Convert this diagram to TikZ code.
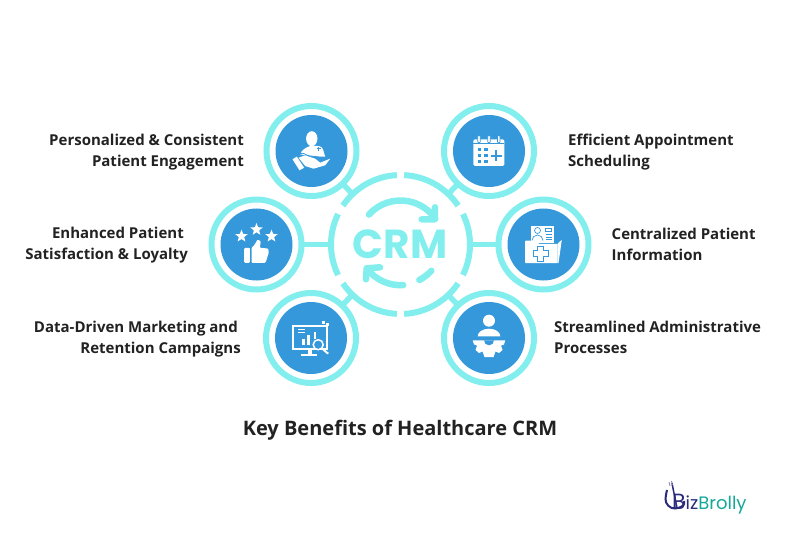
\documentclass[tikz,border=0pt]{standalone}
\usepackage{fontspec}
\setmainfont{Open Sans}
\newfontfamily\logofont{Poppins}
\usetikzlibrary{shapes.geometric}
\definecolor{ringcyan}{HTML}{83EEEE}
\definecolor{discblue}{HTML}{3498DB}
\definecolor{labelgray}{HTML}{222222}
\definecolor{logonavy}{HTML}{2B2A7C}
\definecolor{logoteal}{HTML}{14A898}
\tikzset{
    benefit/.style={circle,draw=ringcyan,line width=6pt,minimum size=90pt,outer sep=0pt,inner sep=0pt},
    hubnode/.style={circle,minimum size=139pt,outer sep=0pt,inner sep=0pt},
    hubarc/.style={draw=ringcyan,line width=6pt},
    link/.style={draw=ringcyan,line width=5.5pt},
    spin/.style={draw=ringcyan,line width=6.5pt,line cap=round,line join=round},
    leftlabel/.style={anchor=east,align=right,inner sep=0pt,text=labelgray,font=\fontsize{15}{21}\selectfont\bfseries},
    rightlabel/.style={anchor=west,align=left,inner sep=0pt,text=labelgray,font=\fontsize{15}{21}\selectfont\bfseries},
    icostar/.style={star,star points=5,star point ratio=2.3,minimum size=13pt,inner sep=0pt,fill=white}
}
\begin{document}
\begin{tikzpicture}[x=1pt,y=1pt]
    \useasboundingbox (0,0) rectangle (801,550);

    \node [hubnode] (hub) at (400.5,305.5) {};
    \node [benefit] (pers) at (311.5,399) {};
    \node [benefit] (appt) at (489,399) {};
    \node [benefit] (satis) at (256.5,305.5) {};
    \node [benefit] (info) at (543.5,305.5) {};
    \node [benefit] (data) at (311,212) {};
    \node [benefit] (admin) at (489,212) {};

    \fill [discblue] (pers) circle (36);
    \fill [discblue] (appt) circle (36);
    \fill [discblue] (satis) circle (36);
    \fill [discblue] (info) circle (36);
    \fill [discblue] (data) circle (36);
    \fill [discblue] (admin) circle (36);

    \draw [link] (pers) -- (hub);
    \draw [link] (appt) -- (hub);
    \draw [link] (satis) -- (hub);
    \draw [link] (info) -- (hub);
    \draw [link] (data) -- (hub);
    \draw [link] (admin) -- (hub);

    % outer broken ring
    \draw [hubarc] (hub.center) ++(93:69.5) arc (93:146:69.5);
    \draw [hubarc] (hub.center) ++(154:69.5) arc (154:206:69.5);
    \draw [hubarc] (hub.center) ++(214:69.5) arc (214:267:69.5);
    \draw [hubarc] (hub.center) ++(273:69.5) arc (273:326:69.5);
    \draw [hubarc] (hub.center) ++(334:69.5) arc (334:386:69.5);
    \draw [hubarc] (hub.center) ++(34:69.5) arc (34:87:69.5);

    % inner arrows
    \coordinate (spinmid) at (400.5,307);
    \draw [spin] (spinmid) ++(138:42.5) arc (138:35:42.5);
    \draw [spin] (435,342.7) -- (434.7,330.7) -- (421.7,330.7);
    \draw [spin] (spinmid) ++(217:42.2) arc (217:273.7:42.2);
    \draw [spin] (380,282.7) -- (366.7,281.7) -- (366,270.7);
    \draw [spin] (spinmid) ++(297:41.5) arc (297:318:41.5);
    \node (crm) at (400,305.5) {\color{ringcyan}\fontsize{40.5}{41}\selectfont\logofont\bfseries CRM};

    % person and hand
    \begin{scope}[shift={(pers)}]
        \fill [white] (0.3,12.3) ellipse (5.7 and 7.5);
        \fill [white] (-11.3,-3.3) to[out=70,in=200] (-1.3,5) -- (7,5) to[out=0,in=110] (13.7,-5.7) -- (5.3,-5.7) -- (-1.3,-5) -- cycle;
        \fill [white] (-19,-8.3) -- (-14.7,-5.7) -- (-7.3,-16.7) -- (-12,-19.3) -- cycle;
        \fill [white] (-13,-6.7) -- (-6.3,-4.3) -- (3.7,-7.7) -- (8.7,-11.7) -- (18.7,-7.7) -- (13.7,-14.3) -- (2,-17.7) -- (-6.3,-15) -- cycle;
        \draw [discblue,line width=0.8pt] (-11.3,-2.5) to[out=20,in=180] (-1,-5) to[out=0,in=170] (9,-6.5);
        \draw [discblue,line width=1pt] (5,2) -- (9,2) (7,0) -- (7,4);
    \end{scope}

    % calendar
    \begin{scope}[shift={(appt)}]
        \fill [white,rounded corners=1.5pt] (-15.7,11.7) rectangle (15.3,-15);
        \draw [discblue,line width=0.7pt] (-15.7,7.3) -- (15.3,7.3);
        \filldraw [fill=white,draw=discblue,line width=0.7pt,rounded corners=1.2pt] (-11.3,15.7) rectangle (-8.7,8);
        \filldraw [fill=white,draw=discblue,line width=0.7pt,rounded corners=1.2pt] (-1.3,15.7) rectangle (1.3,8);
        \filldraw [fill=white,draw=discblue,line width=0.7pt,rounded corners=1.2pt] (8.4,15.7) rectangle (11,8);
        \fill [discblue] (-11.4,3.4) rectangle (-8,0);
        \fill [discblue] (-4.7,3.4) rectangle (-1.3,0);
        \fill [discblue] (-11.4,-2.6) rectangle (-8,-6);
        \fill [discblue] (-4.7,-2.6) rectangle (-1.3,-6);
        \fill [discblue] (-11.4,-8.6) rectangle (-8,-12);
        \fill [discblue] (-4.7,-8.6) rectangle (-1.3,-12);
        \draw [discblue,line width=2.5pt] (1.5,-5) -- (12.5,-5) (7,0.5) -- (7,-10.5);
    \end{scope}

    % stars and thumb
    \begin{scope}[shift={(satis)}]
        \node [icostar] (stara) at (-15,8.3) {};
        \node [icostar] (starb) at (0,15) {};
        \node [icostar] (starc) at (15,8.3) {};
        \fill [white,rounded corners=1pt] (-12.3,-3.3) rectangle (-6.7,-18.3);
        \fill [white,rounded corners=1pt] (-5,-18.3) -- (-5,-3.3) -- (-1.7,0) -- (1,5) -- (4.3,3.3) -- (3.3,-3.3) -- (11.7,-4) -- (12.3,-8.3) -- (9,-18.3) -- cycle;
    \end{scope}

    % folder
    \begin{scope}[shift={(info)}]
        \filldraw [fill=white,draw=discblue,line width=0.6pt] (-13.3,18.7) rectangle (10.7,1.3);
        \draw [discblue,line width=0.7pt] (-6,14) circle (3);
        \draw [discblue,line width=0.7pt] (-11.5,4) to[out=90,in=180] (-6,9.5) to[out=0,in=90] (-0.5,4);
        \draw [discblue,line width=0.7pt] (2,16) rectangle (7.5,13.5);
        \draw [discblue,line width=0.7pt] (2,10) -- (8,10) (2,7.5) -- (8,7.5) (2,5) -- (8,5);
        \fill [white] (14,0.7) -- (18.3,4.7) -- (15,-18.7) -- (14,-18.7) -- cycle;
        \fill [white,rounded corners=0.6pt] (-18.3,4) -- (-6.7,4) -- (-4.7,0.7) -- (14,0.7) -- (14,-18.7) -- (-18.3,-18.7) -- cycle;
        \draw [discblue,line width=0.8pt,fill=white] (-5.7,-2) -- (0.3,-2) -- (0.3,-6.3) -- (4.8,-6.3) -- (4.8,-12.3) -- (0.3,-12.3) -- (0.3,-16.6) -- (-5.7,-16.6) -- (-5.7,-12.3) -- (-10.2,-12.3) -- (-10.2,-6.3) -- (-5.7,-6.3) -- cycle;
    \end{scope}

    % monitor
    \begin{scope}[shift={(data)}]
        \draw [white,line width=2pt] (-17.7,11.9) rectangle (16.4,-10.9);
        \fill [white] (-3.5,-11) rectangle (1,-16);
        \fill [white] (-10,-15.5) rectangle (5.5,-17.8);
        \fill [white] (-13.5,9) rectangle (-6,8);
        \fill [white] (-13.5,6.5) rectangle (-6,5.5);
        \fill [white] (-9,-7.3) rectangle (-6.5,-0.5);
        \fill [white] (-4,-7.3) rectangle (-1.5,2.7);
        \fill [white] (2.5,-1) rectangle (5,6);
        \fill [white] (11,17) rectangle (14,14);
        \fill [white] (15,15) rectangle (18,12);
        \filldraw [fill=discblue,draw=white,line width=1.5pt] (7.2,-6.7) circle (5);
        \draw [white,line width=2pt] (10.8,-10.3) -- (17.2,-15.7);
    \end{scope}

    % person on gear
    \begin{scope}[shift={(admin)}]
        \fill [white] (0,17.3) circle (6);
        \fill [white] (-11.3,1.7) arc (180:0:11.3 and 7.6) -- cycle;
        \fill [white] (-16.3,-2.3) -- (16.3,-2.3) -- (15,-6.5) -- (12,-7.5) -- (13.5,-12) -- (10,-15) -- (6.5,-13.5) -- (4.5,-19) -- (-4.5,-19) -- (-6.5,-13.5) -- (-10,-15) -- (-13.5,-12) -- (-12,-7.5) -- (-15,-6.5) -- cycle;
        \fill [discblue] (-5,-2.3) arc (180:360:5) -- cycle;
    \end{scope}

    \node [leftlabel] (perslabel) at (244,397.5) {Personalized \& Consistent\\Patient Engagement};
    \node [leftlabel] (satislabel) at (188,304.5) {Enhanced Patient\hspace*{4pt}\\Satisfaction \& Loyalty};
    \node [leftlabel] (datalabel) at (241,210.5) {Data-Driven Marketing and\hspace*{3pt}\\Retention Campaigns};
    \node [rightlabel] (applabel) at (568,397.5) {Efficient Appointment\\Scheduling};
    \node [rightlabel] (infolabel) at (611.5,306) {Centralized Patient\\Information};
    \node [rightlabel] (adminlabel) at (554,212.5) {Streamlined Administrative\\Processes};
    \node [inner sep=0pt,text=labelgray,font=\fontsize{20}{24}\selectfont\bfseries] (title) at (400,119.5) {Key Benefits of Healthcare CRM};

    % logo
    \draw [logonavy,line width=2pt] (667,60) to[out=-100,in=90] (665.5,51) to[out=-90,in=180] (675,41.5) to[out=0,in=-60] (684,49);
    \draw [logonavy,line width=1.5pt] (672,67) to[out=-80,in=100] (677,42);
    \draw [logonavy!60,line width=0.8pt] (669,68) -- (670,64) (671.5,69) -- (672.5,65);
    \node [anchor=base west,inner sep=0pt,font=\logofont\fontsize{18}{18}\selectfont] (logo) at (672,41) {\color{logonavy}{\fontsize{22}{22}\selectfont B}iz\color{logoteal}Brolly};
\end{tikzpicture}
\end{document}
